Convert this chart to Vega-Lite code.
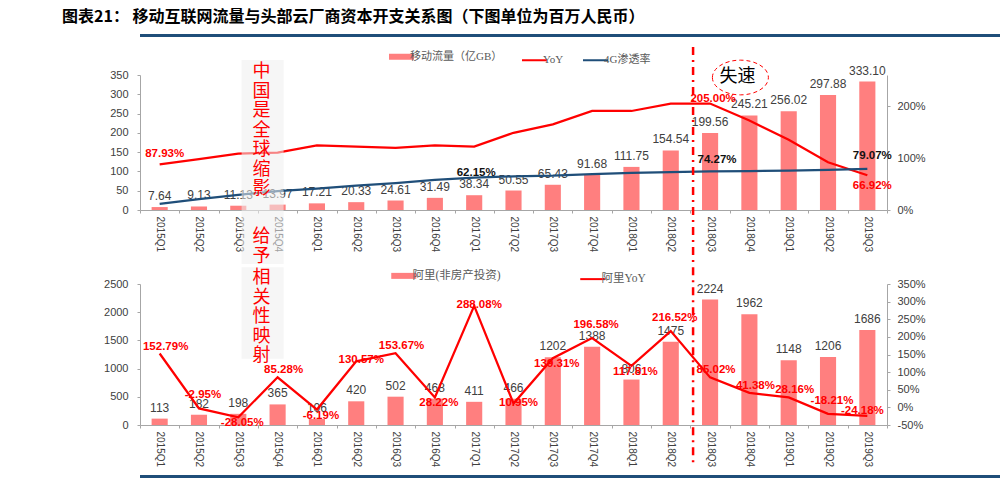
{
  "$schema": "https://vega.github.io/schema/vega-lite/v6.json",
  "padding": {"left": 49, "top": 9, "right": 0, "bottom": 0},
  "background": "white",
  "title": {"text": "图表21：  移动互联网流量与头部云厂商资本开支关系图（下图单位为百万人民币）", "anchor": "start", "font": "Noto Sans CJK SC", "fontSize": 16, "fontWeight": "bold", "color": "#000000", "offset": 9, "dx": 13},
  "config": {
    "view": {"stroke": null},
    "locale": {"number": {"decimal": ".", "thousands": ",", "grouping": [3], "currency": ["", ""], "minus": "-"}},
    "axis": {"domainColor": "#A6A6A6", "tickColor": "#A6A6A6", "labelColor": "#404040", "labelFont": "Liberation Sans", "labelFontSize": 11, "grid": false, "title": null, "tickSize": 3},
    "axisX": {"labelAngle": 90, "labelFontSize": 10, "labelPadding": 3, "tickBand": "extent"},
    "text": {"font": "Liberation Sans"}
  },
  "datasets": {
    "top": [
      {"q": "2015Q1", "flow": 7.64, "yoy": 0.8793, "pen": 0.117},
      {"q": "2015Q2", "flow": 9.13, "yoy": 0.98, "pen": 0.21},
      {"q": "2015Q3", "flow": 11.13, "yoy": 1.087, "pen": 0.29},
      {"q": "2015Q4", "flow": 13.97, "yoy": 1.105, "pen": 0.365},
      {"q": "2016Q1", "flow": 17.21, "yoy": 1.246, "pen": 0.413},
      {"q": "2016Q2", "flow": 20.33, "yoy": 1.222, "pen": 0.469},
      {"q": "2016Q3", "flow": 24.61, "yoy": 1.198, "pen": 0.519},
      {"q": "2016Q4", "flow": 31.49, "yoy": 1.246, "pen": 0.58},
      {"q": "2017Q1", "flow": 38.34, "yoy": 1.222, "pen": 0.6215},
      {"q": "2017Q2", "flow": 50.55, "yoy": 1.487, "pen": 0.648},
      {"q": "2017Q3", "flow": 65.43, "yoy": 1.648, "pen": 0.66},
      {"q": "2017Q4", "flow": 91.68, "yoy": 1.907, "pen": 0.69},
      {"q": "2018Q1", "flow": 111.75, "yoy": 1.907, "pen": 0.716},
      {"q": "2018Q2", "flow": 154.54, "yoy": 2.05, "pen": 0.728},
      {"q": "2018Q3", "flow": 199.56, "yoy": 2.05, "pen": 0.7427},
      {"q": "2018Q4", "flow": 245.21, "yoy": 1.722, "pen": 0.75},
      {"q": "2019Q1", "flow": 256.02, "yoy": 1.352, "pen": 0.76},
      {"q": "2019Q2", "flow": 297.88, "yoy": 0.92, "pen": 0.775},
      {"q": "2019Q3", "flow": 333.10, "yoy": 0.6692, "pen": 0.7907}
    ],
    "bottom": [
      {"q": "2015Q1", "capex": 113, "ayoy": 1.5279},
      {"q": "2015Q2", "capex": 182, "ayoy": -0.0295},
      {"q": "2015Q3", "capex": 198, "ayoy": -0.2805},
      {"q": "2015Q4", "capex": 365, "ayoy": 0.8528},
      {"q": "2016Q1", "capex": 106, "ayoy": -0.0619},
      {"q": "2016Q2", "capex": 420, "ayoy": 1.3057},
      {"q": "2016Q3", "capex": 502, "ayoy": 1.5367},
      {"q": "2016Q4", "capex": 468, "ayoy": 0.2822},
      {"q": "2017Q1", "capex": 411, "ayoy": 2.8808},
      {"q": "2017Q2", "capex": 466, "ayoy": 0.1095},
      {"q": "2017Q3", "capex": 1202, "ayoy": 1.3931},
      {"q": "2017Q4", "capex": 1388, "ayoy": 1.9658},
      {"q": "2018Q1", "capex": 806, "ayoy": 1.1781},
      {"q": "2018Q2", "capex": 1475, "ayoy": 2.1652},
      {"q": "2018Q3", "capex": 2224, "ayoy": 0.8502},
      {"q": "2018Q4", "capex": 1962, "ayoy": 0.4138},
      {"q": "2019Q1", "capex": 1148, "ayoy": 0.2816},
      {"q": "2019Q2", "capex": 1206, "ayoy": -0.1821},
      {"q": "2019Q3", "capex": 1686, "ayoy": -0.2418}
    ],
    "one": [{"k": 1}]
  },
  "spacing": 8,
  "vconcat": [
    {
      "width": 951, "height": 3,
      "data": {"name": "one"},
      "mark": {"type": "rect", "color": "#1F4E79"},
      "encoding": {
        "x": {"datum": 0, "type": "quantitative", "scale": {"domain": [0, 1]}, "axis": null},
        "x2": {"datum": 1}
      }
    },
    {
      "spacing": 0,
      "resolve": {"scale": {"color": "independent"}, "legend": {"color": "independent"}},
      "vconcat": [
        {
          "width": 747, "height": 135,
          "data": {"name": "top"},
          "encoding": {
            "x": {"field": "q", "type": "ordinal", "scale": {"domain": ["2015Q1","2015Q2","2015Q3","2015Q4","2016Q1","2016Q2","2016Q3","2016Q4","2017Q1","2017Q2","2017Q3","2017Q4","2018Q1","2018Q2","2018Q3","2018Q4","2019Q1","2019Q2","2019Q3"], "paddingInner": 0, "paddingOuter": 0}}
          },
          "resolve": {"scale": {"y": "independent"}},
          "layer": [
            {
              "encoding": {"y": {"field": "flow", "type": "quantitative", "scale": {"domain": [0, 350]}, "axis": {"orient": "left", "values": [0, 50, 100, 150, 200, 250, 300, 350], "minExtent": 91, "labelPadding": 9}}},
              "layer": [
                {
                  "mark": {"type": "bar", "width": {"band": 0.41}},
                  "encoding": {
                    "color": {"datum": "移动流量（亿GB）", "type": "nominal",
                      "scale": {"domain": ["移动流量（亿GB）", "YoY", "4G渗透率"], "range": ["#FF7F7F", "#FF0000", "#1F4E79"]},
                      "legend": {"orient": "none", "legendX": 256, "legendY": -24, "direction": "horizontal", "title": null, "symbolType": "stroke", "symbolSize": 625, "symbolStrokeWidth": 2, "labelFont": "Liberation Serif, Noto Sans CJK SC", "labelFontSize": 11, "labelColor": "#595959", "labelOffset": 3, "columnPadding": 15, "padding": 0,
                        "encode": {"symbols": {"update": {
                          "strokeWidth": {"signal": "datum.value === '移动流量（亿GB）' ? 6 : 2"},
                          "stroke": {"signal": "datum.value === '移动流量（亿GB）' ? '#FF7F7F' : (datum.value === 'YoY' ? '#FF0000' : '#1F4E79')"}
                        }}}
                      }
                    }
                  }
                },
                {
                  "mark": {"type": "text", "dy": -11, "fontSize": 12, "color": "#404040"},
                  "encoding": {"text": {"field": "flow", "type": "quantitative", "format": ".2f"}}
                }
              ]
            },
            {
              "layer": [
                {
                  "mark": {"type": "line", "strokeWidth": 2.25},
                  "encoding": {
                    "y": {"field": "yoy", "type": "quantitative", "scale": {"domain": [0, 2.5]}, "axis": {"orient": "right", "format": ".0%", "values": [0, 0.5, 1, 1.5, 2, 2.5], "labelPadding": 7}},
                    "color": {"datum": "YoY", "type": "nominal"}
                  }
                },
                {
                  "mark": {"type": "line", "strokeWidth": 2.25},
                  "encoding": {
                    "y": {"field": "pen", "type": "quantitative"},
                    "color": {"datum": "4G渗透率", "type": "nominal"}
                  }
                },
                {
                  "transform": [{"filter": {"field": "q", "oneOf": ["2015Q1"]}}],
                  "mark": {"type": "text", "dx": 5, "dy": -10, "color": "#FF0000", "fontWeight": "bold", "fontSize": 11.5},
                  "encoding": {"y": {"field": "yoy", "type": "quantitative"}, "text": {"field": "yoy", "type": "quantitative", "format": ".2%"}}
                },
                {
                  "transform": [{"filter": {"field": "q", "oneOf": ["2018Q3"]}}],
                  "mark": {"type": "text", "dx": 3, "dy": -5, "color": "#FF0000", "fontWeight": "bold", "fontSize": 11.5},
                  "encoding": {"y": {"field": "yoy", "type": "quantitative"}, "text": {"field": "yoy", "type": "quantitative", "format": ".2%"}}
                },
                {
                  "transform": [{"filter": {"field": "q", "oneOf": ["2019Q3"]}}],
                  "mark": {"type": "text", "dx": 5, "dy": 11, "color": "#FF0000", "fontWeight": "bold", "fontSize": 11.5},
                  "encoding": {"y": {"field": "yoy", "type": "quantitative"}, "text": {"field": "yoy", "type": "quantitative", "format": ".2%"}}
                },
                {
                  "transform": [{"filter": {"field": "q", "oneOf": ["2017Q1"]}}],
                  "mark": {"type": "text", "dx": 2, "dy": -5, "color": "#111111", "fontWeight": "bold", "fontSize": 11.5},
                  "encoding": {"y": {"field": "pen", "type": "quantitative"}, "text": {"field": "pen", "type": "quantitative", "format": ".2%"}}
                },
                {
                  "transform": [{"filter": {"field": "q", "oneOf": ["2018Q3"]}}],
                  "mark": {"type": "text", "dx": 7, "dy": -11, "color": "#111111", "fontWeight": "bold", "fontSize": 11.5},
                  "encoding": {"y": {"field": "pen", "type": "quantitative"}, "text": {"field": "pen", "type": "quantitative", "format": ".2%"}}
                },
                {
                  "transform": [{"filter": {"field": "q", "oneOf": ["2019Q3"]}}],
                  "mark": {"type": "text", "dx": 5, "dy": -13, "color": "#111111", "fontWeight": "bold", "fontSize": 11.5},
                  "encoding": {"y": {"field": "pen", "type": "quantitative"}, "text": {"field": "pen", "type": "quantitative", "format": ".2%"}}
                }
              ]
            },
            {
              "data": {"name": "one"},
              "layer": [
                {
                  "mark": {"type": "bar", "width": 42, "xOffset": -15, "color": "#EEEEEE", "opacity": 0.55},
                  "encoding": {
                    "x": {"datum": "2015Q4", "type": "ordinal"},
                    "y": {"datum": 389, "type": "quantitative", "scale": {"domain": [0, 350]}, "axis": null},
                    "y2": {"datum": -140}
                  }
                },
                {
                  "mark": {"type": "text", "text": ["中", "国", "是", "全", "球", "缩", "影"], "font": "Noto Sans CJK SC", "fontSize": 18, "lineHeight": 19.5, "color": "#FF0000", "baseline": "top", "align": "center", "dx": -16},
                  "encoding": {"x": {"datum": "2015Q4", "type": "ordinal"}, "y": {"datum": 381, "type": "quantitative"}}
                },
                {
                  "mark": {"type": "text", "text": ["给", "予"], "font": "Noto Sans CJK SC", "fontSize": 18, "lineHeight": 19.5, "color": "#FF0000", "baseline": "top", "align": "center", "dx": -16},
                  "encoding": {"x": {"datum": "2015Q4", "type": "ordinal"}, "y": {"datum": -46.7, "type": "quantitative"}}
                },
                {
                  "mark": {"type": "rule", "color": "#FF0000", "strokeWidth": 2.5, "strokeDash": [8, 5, 2, 5], "xOffset": -17},
                  "encoding": {"x": {"datum": "2018Q3", "type": "ordinal"}, "y": {"datum": 422.6, "type": "quantitative"}, "y2": {"datum": -140}}
                },
                {
                  "mark": {"type": "point", "shape": "M -1 0 A 1 0.62 0 1 1 1 0 A 1 0.62 0 1 1 -1 0", "size": 3136, "filled": false, "color": "#FF0000", "strokeWidth": 1, "strokeDash": [4, 3], "opacity": 1, "xOffset": -9},
                  "encoding": {"x": {"datum": "2018Q4", "type": "ordinal"}, "y": {"datum": 343.5, "type": "quantitative"}}
                },
                {
                  "mark": {"type": "text", "text": "失速", "font": "Noto Sans CJK SC", "fontSize": 18, "color": "#000000", "baseline": "middle", "align": "center", "dx": -12},
                  "encoding": {"x": {"datum": "2018Q4", "type": "ordinal"}, "y": {"datum": 346, "type": "quantitative"}}
                }
              ]
            }
          ]
        },
        {
          "width": 747, "height": 141,
          "data": {"name": "bottom"},
          "encoding": {
            "x": {"field": "q", "type": "ordinal", "scale": {"domain": ["2015Q1","2015Q2","2015Q3","2015Q4","2016Q1","2016Q2","2016Q3","2016Q4","2017Q1","2017Q2","2017Q3","2017Q4","2018Q1","2018Q2","2018Q3","2018Q4","2019Q1","2019Q2","2019Q3"], "paddingInner": 0, "paddingOuter": 0}}
          },
          "resolve": {"scale": {"y": "independent"}},
          "layer": [
            {
              "encoding": {"y": {"field": "capex", "type": "quantitative", "scale": {"domain": [0, 2500]}, "axis": {"orient": "left", "format": "d", "values": [0, 500, 1000, 1500, 2000, 2500], "minExtent": 91, "labelPadding": 9}}},
              "layer": [
                {
                  "mark": {"type": "bar", "width": {"band": 0.41}},
                  "encoding": {
                    "color": {"datum": "阿里(非房产投资)", "type": "nominal",
                      "scale": {"domain": ["阿里(非房产投资)", "阿里YoY"], "range": ["#FF7F7F", "#FF0000"]},
                      "legend": {"orient": "none", "legendX": 258, "legendY": -14, "direction": "horizontal", "title": null, "symbolType": "stroke", "symbolSize": 625, "symbolStrokeWidth": 2, "labelFont": "Liberation Serif, Noto Sans CJK SC", "labelFontSize": 11.5, "labelColor": "#595959", "labelOffset": 3, "columnPadding": 75, "padding": 0,
                        "encode": {"symbols": {"update": {
                          "strokeWidth": {"signal": "datum.value === '阿里(非房产投资)' ? 6 : 2"},
                          "stroke": {"signal": "datum.value === '阿里(非房产投资)' ? '#FF7F7F' : '#FF0000'"}
                        }}}
                      }
                    }
                  }
                },
                {
                  "mark": {"type": "text", "dy": -11, "fontSize": 12, "color": "#404040"},
                  "encoding": {"text": {"field": "capex", "type": "quantitative", "format": "d"}}
                }
              ]
            },
            {
              "encoding": {"y": {"field": "ayoy", "type": "quantitative", "scale": {"domain": [-0.5, 3.5]}, "axis": {"orient": "right", "format": ".0%", "values": [-0.5, 0, 0.5, 1, 1.5, 2, 2.5, 3, 3.5], "labelPadding": 7}}},
              "layer": [
                {
                  "mark": {"type": "line", "strokeWidth": 2.25},
                  "encoding": {"color": {"datum": "阿里YoY", "type": "nominal"}}
                },
                {
                  "transform": [{"filter": {"field": "q", "oneOf": ["2015Q1", "2015Q4", "2016Q3", "2018Q3", "2018Q4", "2019Q1"]}}],
                  "mark": {"type": "text", "dx": 6, "dy": -7, "color": "#FF0000", "fontWeight": "bold", "fontSize": 11.5},
                  "encoding": {"text": {"field": "ayoy", "type": "quantitative", "format": ".2%"}}
                },
                {
                  "transform": [{"filter": {"field": "q", "oneOf": ["2015Q2", "2017Q4", "2018Q2", "2019Q2"]}}],
                  "mark": {"type": "text", "dx": 4, "dy": -13, "color": "#FF0000", "fontWeight": "bold", "fontSize": 11.5},
                  "encoding": {"text": {"field": "ayoy", "type": "quantitative", "format": ".2%"}}
                },
                {
                  "transform": [{"filter": {"field": "q", "oneOf": ["2015Q3", "2016Q1", "2016Q4", "2017Q3", "2018Q1"]}}],
                  "mark": {"type": "text", "dx": 4, "dy": 6, "color": "#FF0000", "fontWeight": "bold", "fontSize": 11.5},
                  "encoding": {"text": {"field": "ayoy", "type": "quantitative", "format": ".2%"}}
                },
                {
                  "transform": [{"filter": {"field": "q", "oneOf": ["2016Q2", "2017Q1", "2017Q2"]}}],
                  "mark": {"type": "text", "dx": 5, "dy": -1, "color": "#FF0000", "fontWeight": "bold", "fontSize": 11.5},
                  "encoding": {"text": {"field": "ayoy", "type": "quantitative", "format": ".2%"}}
                },
                {
                  "transform": [{"filter": {"field": "q", "oneOf": ["2019Q3"]}}],
                  "mark": {"type": "text", "dx": -5, "dy": -5, "color": "#FF0000", "fontWeight": "bold", "fontSize": 11.5},
                  "encoding": {"text": {"field": "ayoy", "type": "quantitative", "format": ".2%"}}
                }
              ]
            },
            {
              "data": {"name": "one"},
              "layer": [
                {
                  "mark": {"type": "bar", "width": 42, "xOffset": -15, "color": "#EEEEEE", "opacity": 0.55},
                  "encoding": {
                    "x": {"datum": "2015Q4", "type": "ordinal"},
                    "y": {"datum": 2908, "type": "quantitative", "scale": {"domain": [0, 2500]}, "axis": null},
                    "y2": {"datum": 1223}
                  }
                },
                {
                  "mark": {"type": "text", "text": ["相", "关", "性", "映", "射"], "font": "Noto Sans CJK SC", "fontSize": 18, "lineHeight": 19.5, "color": "#FF0000", "baseline": "top", "align": "center", "dx": -16},
                  "encoding": {"x": {"datum": "2015Q4", "type": "ordinal"}, "y": {"datum": 2872, "type": "quantitative"}}
                },
                {
                  "mark": {"type": "rule", "color": "#FF0000", "strokeWidth": 2.5, "strokeDash": [8, 5, 2, 5], "xOffset": -17},
                  "encoding": {"x": {"datum": "2018Q3", "type": "ordinal"}, "y": {"datum": 2908, "type": "quantitative"}, "y2": {"datum": -727}}
                }
              ]
            }
          ]
        }
      ]
    },
    {
      "width": 929, "height": 3,
      "data": {"name": "one"},
      "mark": {"type": "rect", "color": "#1F4E79"},
      "encoding": {
        "x": {"datum": 0, "type": "quantitative", "scale": {"domain": [0, 1]}, "axis": null},
        "x2": {"datum": 1}
      }
    }
  ]
}
